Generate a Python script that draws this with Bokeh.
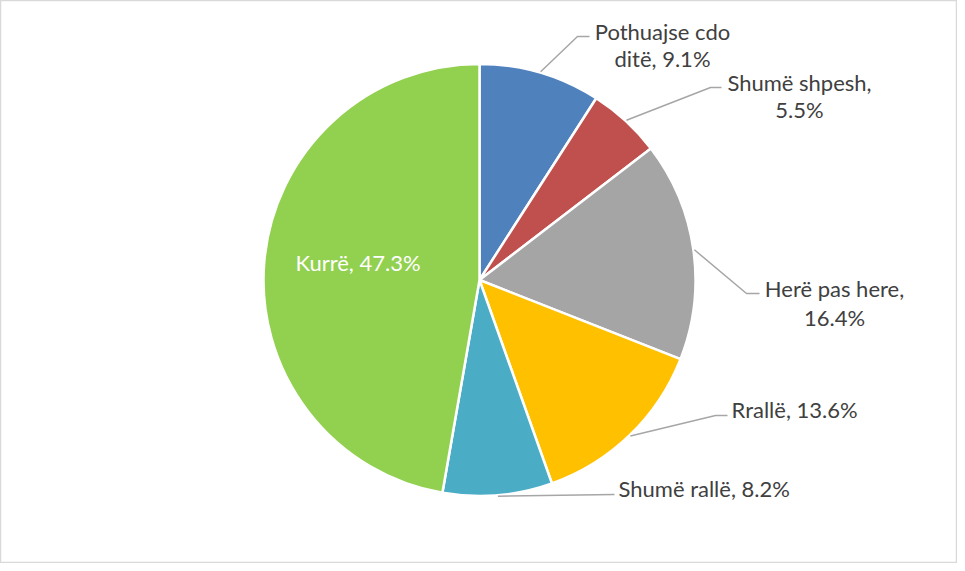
import math
from bokeh.plotting import figure
from bokeh.models import Range1d, ColumnDataSource
from bokeh.core.properties import value
from bokeh.embed import file_html
from bokeh.resources import INLINE

# ---- data ----
categories = ["Pothuajse cdo ditë", "Shumë shpesh", "Herë pas here", "Rrallë", "Shumë rallë", "Kurrë"]
values = [9.1, 5.5, 16.4, 13.6, 8.2, 47.3]
colors = ["#4F81BD", "#C0504D", "#A5A5A5", "#FFC000", "#4BACC6", "#92D050"]

W, H = 957, 563
OFF_X, OFF_Y = 8, 8
FONT = "Lato"
FSIZE = "22px"


def dx(x_img):
    return x_img - OFF_X


def dy(y_img):
    return H - (y_img - OFF_Y)


CX, CY, R = dx(487), dy(287.5), 216

p = figure(width=W, height=H, output_backend="svg", toolbar_location=None,
           x_range=Range1d(0, W), y_range=Range1d(0, H), min_border=0)
p.axis.visible = False
p.grid.visible = False
p.outline_line_color = "#d9d9d9"
p.outline_line_width = 1.5
p.background_fill_color = "white"
p.border_fill_color = "white"

total = sum(values)
starts, ends, mids = [], [], []
acc = 0.0
for v in values:
    a0 = math.pi / 2 - 2 * math.pi * acc / total
    acc += v
    a1 = math.pi / 2 - 2 * math.pi * acc / total
    starts.append(a0)
    ends.append(a1)
    mids.append((a0 + a1) / 2)

src = ColumnDataSource(dict(start=starts, end=ends, color=colors))
p.wedge(x=CX, y=CY, radius=R, start_angle="start", end_angle="end",
        direction="clock", fill_color="color", line_color="white",
        line_width=2.5, source=src)

# ---- label layout (image coords): elbow, end, text lines ----
layout = [
    dict(elbow=(585, 44), end=(597, 44), align="center",
         lines=[("Pothuajse cdo", 670, 39), ("ditë, {}%", 670, 66)]),
    dict(elbow=(718, 95), end=(729, 95), align="center",
         lines=[("Shumë shpesh,", 807, 90), ("{}%", 807, 117)]),
    dict(elbow=(754, 301), end=(767, 301), align="center",
         lines=[("Herë pas here,", 842, 296), ("{}%", 842, 325)]),
    dict(elbow=(723, 423), end=(735, 423), align="left",
         lines=[("Rrallë, {}%", 739, 417)]),
    dict(elbow=(622, 502), end=(622, 502), align="left",
         lines=[("Shumë rallë, {}%", 626, 496)]),
    None,
]

for i, lay in enumerate(layout):
    if lay is None:
        continue
    m = mids[i]
    sx = CX + (R + 1) * math.cos(m)
    sy = CY + (R + 1) * math.sin(m)
    xs = [sx, dx(lay["elbow"][0]), dx(lay["end"][0])]
    ys = [sy, dy(lay["elbow"][1]), dy(lay["end"][1])]
    p.line(xs, ys, line_color="#a6a6a6", line_width=1.5)
    for txt, tx, ty in lay["lines"]:
        t = txt.format(values[i]) if "{}" in txt else txt
        p.text(x=[dx(tx)], y=[dy(ty)], text=[t], text_font=value(FONT),
               text_font_size=FSIZE, text_color="#404040",
               text_align=lay["align"], text_baseline="middle")

# inside label for Kurrë
p.text(x=[dx(365.5)], y=[dy(270)], text=["{}, {}%".format(categories[5], values[5])],
       text_font=value(FONT), text_font_size=FSIZE, text_color="white",
       text_align="center", text_baseline="middle")

open("out.html", "w").write(file_html(p, INLINE))
